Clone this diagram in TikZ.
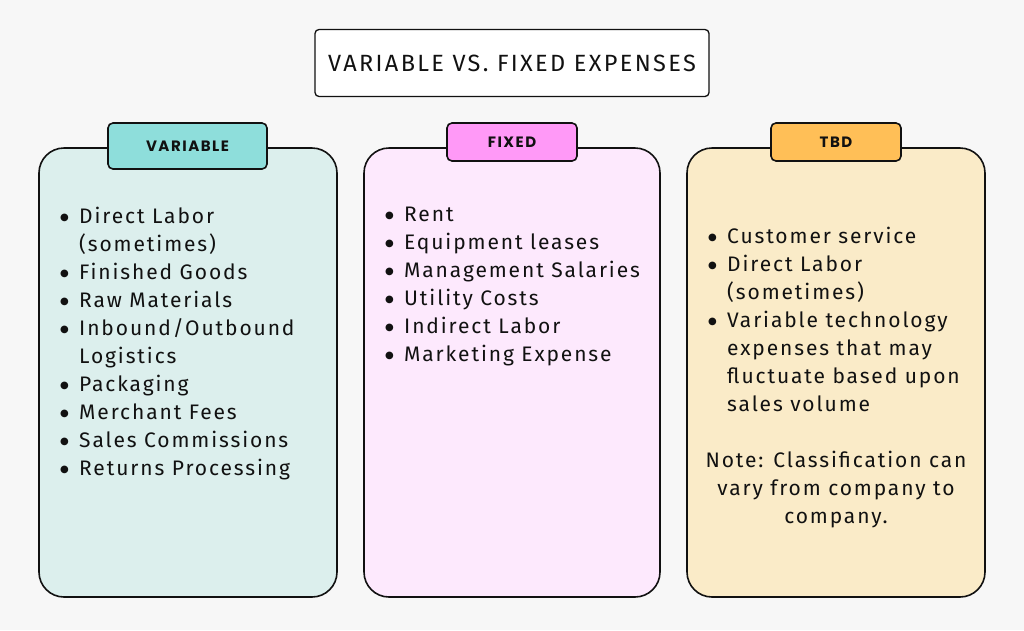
\documentclass[tikz,border=0pt]{standalone}
\usepackage{fontspec}
\setmainfont{Fira Sans}[LetterSpace=9]
\newfontfamily\titlefont{Fira Sans}[LetterSpace=10]
\newfontfamily\headfont{Poppins}[LetterSpace=10]
\newfontfamily\symfont{DejaVu Sans}
\usetikzlibrary{positioning}
\definecolor{bgc}{HTML}{F7F7F7}
\definecolor{varfill}{HTML}{DCEFED}
\definecolor{varhead}{HTML}{8EDEDB}
\definecolor{fixfill}{HTML}{FDE9FD}
\definecolor{fixhead}{HTML}{FF99F7}
\definecolor{tbdfill}{HTML}{FAEBC8}
\definecolor{tbdhead}{HTML}{FFBF57}
\definecolor{ink}{HTML}{111111}
\newcommand{\bul}{\makebox[20pt][l]{\hspace{1pt}\raisebox{2.4pt}{\symfont\fontsize{10}{10}\selectfont ●}}}
\newcommand{\itm}[1]{\bul#1}
\newcommand{\cont}[1]{\hspace*{20pt}#1}
\tikzset{
  panel/.style={draw=ink, line width=1.6pt, rounded corners=25pt},
  headbox/.style={draw=ink, line width=1.6pt, rounded corners=5pt, inner sep=0pt,
    font={\headfont\bfseries\fontsize{15}{17}\selectfont}, text=ink},
  listtext/.style={inner sep=0pt, align=left, anchor=north west, text=ink,
    font={\fontsize{21}{28}\selectfont}},
}
\begin{document}
\begin{tikzpicture}[x=1pt,y=-1pt]
\fill[bgc] (0,0) rectangle (1024,630);
\useasboundingbox (0,0) rectangle (1024,630);
% title
\node[draw=ink, line width=1.3pt, rounded corners=4pt, fill=white,
  minimum width=394pt, minimum height=67pt, inner sep=0pt, text=ink,
  font={\titlefont\fontsize{23.5}{27}\selectfont}] (title) at (512,63) {VARIABLE VS. FIXED EXPENSES};
% panels
\draw[panel, fill=varfill] (39,148) rectangle (337,597);
\draw[panel, fill=fixfill] (364,148) rectangle (660,597);
\draw[panel, fill=tbdfill] (687,148) rectangle (985,597);
% headers
\node[headbox, fill=varhead, minimum width=159pt, minimum height=46pt] (hvar) at (187.5,146) {VARIABLE};
\node[headbox, fill=fixhead, minimum width=130pt, minimum height=38pt] (hfix) at (512,142) {FIXED};
\node[headbox, fill=tbdhead, minimum width=130pt, minimum height=38pt] (htbd) at (836,142) {TBD};
% lists
\node[listtext] (lvar) at (59,206.5) {\itm{Direct Labor}\\\cont{(sometimes)}\\\itm{Finished Goods}\\\itm{Raw Materials}\\\itm{Inbound/Outbound}\\\cont{Logistics}\\\itm{Packaging}\\\itm{Merchant Fees}\\\itm{Sales Commissions}\\\itm{Returns Processing}};
\node[listtext] (lfix) at (384,206.5) {\itm{Rent}\\\itm{Equipment leases}\\\itm{Management Salaries}\\\itm{Utility Costs}\\\itm{Indirect Labor}\\\itm{Marketing Expense}};
\node[listtext] (ltbd) at (707,226.5) {\itm{Customer service}\\\itm{Direct Labor}\\\cont{(sometimes)}\\\itm{Variable technology}\\\cont{expenses that may}\\\cont{fluctuate based upon}\\\cont{sales volume}};
\node[inner sep=0pt, align=center, anchor=north, text=ink,
  font={\fontsize{21}{28}\selectfont}] (note) at (836,450.5) {Note: Classification can\\vary from company to\\company.};
\end{tikzpicture}
\end{document}
